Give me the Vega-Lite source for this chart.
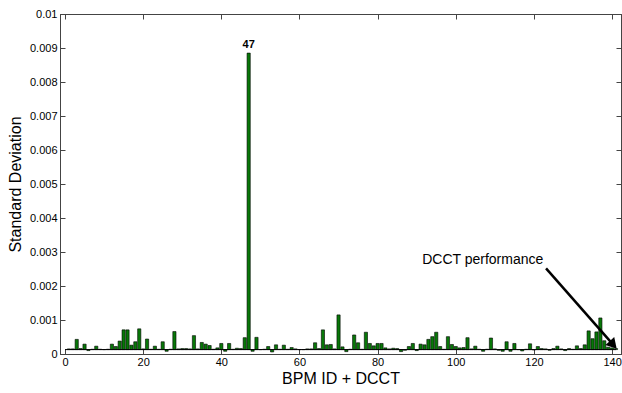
{
  "$schema": "https://vega.github.io/schema/vega-lite/v6.json",
  "width": 561,
  "height": 340,
  "autosize": {"type": "none"},
  "padding": {"left": 60, "top": 14, "right": 1, "bottom": 39},
  "background": "white",
  "config": {
    "font": "Liberation Sans",
    "view": {"stroke": "#444", "strokeWidth": 1},
    "axis": {
      "labelFont": "Liberation Sans",
      "titleFont": "Liberation Sans",
      "labelFontSize": 11,
      "labelColor": "black",
      "titleFontSize": 16,
      "titleFontWeight": "normal",
      "titleColor": "black",
      "domainColor": "#444",
      "tickColor": "#444",
      "grid": false
    }
  },
  "datasets": {
    "bpm": [
      {"id": 1, "sd": 0.00015}, {"id": 2, "sd": 0.00015}, {"id": 3, "sd": 0.00043}, {"id": 4, "sd": 0.00016}, {"id": 5, "sd": 0.00029},
      {"id": 6, "sd": 0.0001}, {"id": 7, "sd": 0.00014}, {"id": 8, "sd": 0.00023}, {"id": 9, "sd": 0.00014}, {"id": 10, "sd": 0.00013},
      {"id": 11, "sd": 0.00014}, {"id": 12, "sd": 0.00029}, {"id": 13, "sd": 0.00022}, {"id": 14, "sd": 0.00038}, {"id": 15, "sd": 0.00071},
      {"id": 16, "sd": 0.00071}, {"id": 17, "sd": 0.00026}, {"id": 18, "sd": 0.00036}, {"id": 19, "sd": 0.00074}, {"id": 20, "sd": 0.00015},
      {"id": 21, "sd": 0.00044}, {"id": 22, "sd": 0.00014}, {"id": 23, "sd": 0.00023}, {"id": 24, "sd": 0.00014}, {"id": 25, "sd": 0.00036},
      {"id": 26, "sd": 0.00008}, {"id": 27, "sd": 0.00014}, {"id": 28, "sd": 0.00066}, {"id": 29, "sd": 0.00015}, {"id": 30, "sd": 0.00016},
      {"id": 31, "sd": 0.00016}, {"id": 32, "sd": 0.00015}, {"id": 33, "sd": 0.00054}, {"id": 34, "sd": 0.00015}, {"id": 35, "sd": 0.00034},
      {"id": 36, "sd": 0.00029}, {"id": 37, "sd": 0.00025}, {"id": 38, "sd": 0.00014}, {"id": 39, "sd": 0.00018}, {"id": 40, "sd": 0.00031},
      {"id": 41, "sd": 0.00008}, {"id": 42, "sd": 0.00031}, {"id": 43, "sd": 0.00014}, {"id": 44, "sd": 0.00017}, {"id": 45, "sd": 0.00016},
      {"id": 46, "sd": 0.00048}, {"id": 47, "sd": 0.00885}, {"id": 48, "sd": 0.00008}, {"id": 49, "sd": 0.00049}, {"id": 50, "sd": 0.00013},
      {"id": 51, "sd": 0.00014}, {"id": 52, "sd": 0.00022}, {"id": 53, "sd": 0.00006}, {"id": 54, "sd": 0.00027}, {"id": 55, "sd": 0.00014},
      {"id": 56, "sd": 0.00026}, {"id": 57, "sd": 0.00014}, {"id": 58, "sd": 0.00019}, {"id": 59, "sd": 0.00015}, {"id": 60, "sd": 0.00013},
      {"id": 61, "sd": 0.00013}, {"id": 62, "sd": 0.00015}, {"id": 63, "sd": 0.00015}, {"id": 64, "sd": 0.00033}, {"id": 65, "sd": 0.00016},
      {"id": 66, "sd": 0.00071}, {"id": 67, "sd": 0.00027}, {"id": 68, "sd": 0.00028}, {"id": 69, "sd": 0.00015}, {"id": 70, "sd": 0.00115},
      {"id": 71, "sd": 0.00021}, {"id": 72, "sd": 0.00007}, {"id": 73, "sd": 0.00014}, {"id": 74, "sd": 0.00056}, {"id": 75, "sd": 0.00033},
      {"id": 76, "sd": 0.00014}, {"id": 77, "sd": 0.00064}, {"id": 78, "sd": 0.00031}, {"id": 79, "sd": 0.00024}, {"id": 80, "sd": 0.00031},
      {"id": 81, "sd": 0.00031}, {"id": 82, "sd": 0.00018}, {"id": 83, "sd": 0.00015}, {"id": 84, "sd": 0.00017}, {"id": 85, "sd": 0.00016},
      {"id": 86, "sd": 0.00007}, {"id": 87, "sd": 0.00011}, {"id": 88, "sd": 0.00022}, {"id": 89, "sd": 0.00031}, {"id": 90, "sd": 0.0001},
      {"id": 91, "sd": 0.00029}, {"id": 92, "sd": 0.00027}, {"id": 93, "sd": 0.00043}, {"id": 94, "sd": 0.00051}, {"id": 95, "sd": 0.00064},
      {"id": 96, "sd": 0.00022}, {"id": 97, "sd": 0.00014}, {"id": 98, "sd": 0.00051}, {"id": 99, "sd": 0.00028}, {"id": 100, "sd": 0.00022},
      {"id": 101, "sd": 0.00018}, {"id": 102, "sd": 0.00019}, {"id": 103, "sd": 0.00048}, {"id": 104, "sd": 0.00015}, {"id": 105, "sd": 0.00023},
      {"id": 106, "sd": 0.00014}, {"id": 107, "sd": 0.00008}, {"id": 108, "sd": 0.00014}, {"id": 109, "sd": 0.00047}, {"id": 110, "sd": 0.00015},
      {"id": 111, "sd": 0.00011}, {"id": 112, "sd": 0.00008}, {"id": 113, "sd": 0.00036}, {"id": 114, "sd": 0.00008}, {"id": 115, "sd": 0.00031},
      {"id": 116, "sd": 0.00013}, {"id": 117, "sd": 0.00009}, {"id": 118, "sd": 0.00014}, {"id": 119, "sd": 0.0003}, {"id": 120, "sd": 0.00012},
      {"id": 121, "sd": 0.00022}, {"id": 122, "sd": 0.00016}, {"id": 123, "sd": 0.00015}, {"id": 124, "sd": 0.00011}, {"id": 125, "sd": 0.00016},
      {"id": 126, "sd": 0.00023}, {"id": 127, "sd": 0.00015}, {"id": 128, "sd": 0.0001}, {"id": 129, "sd": 0.00016}, {"id": 130, "sd": 0.00014},
      {"id": 131, "sd": 0.00024}, {"id": 132, "sd": 0.00016}, {"id": 133, "sd": 0.00027}, {"id": 134, "sd": 0.00068}, {"id": 135, "sd": 0.00045},
      {"id": 136, "sd": 0.00065}, {"id": 137, "sd": 0.00106}, {"id": 138, "sd": 0.00039}, {"id": 139, "sd": 0.0002}, {"id": 140, "sd": 0.00018},
      {"id": 141, "sd": 0.00016}
    ],
    "note": [
      {"label": "DCCT performance", "tx": 91.4, "ty": 0.00264, "x0": 123.1, "y0": 0.00252, "x1": 140.1, "y1": 0.0003, "hx": 140.3, "hy": 0.00027}
    ]
  },
  "layer": [
    {
      "data": {"name": "bpm"},
      "mark": {"type": "bar", "width": 3.2, "fill": "#087808", "stroke": "black", "strokeWidth": 0.6},
      "encoding": {
        "x": {
          "field": "id", "type": "quantitative",
          "scale": {"domain": [0, 141], "nice": false, "zero": false},
          "axis": {"orient": "bottom", "title": "BPM ID + DCCT", "values": [0, 20, 40, 60, 80, 100, 120, 140], "tickSize": -5, "labelPadding": 7, "titlePadding": 3, "labelFlush": false}
        },
        "y": {
          "field": "sd", "type": "quantitative",
          "scale": {"domain": [0, 0.01], "nice": false},
          "axis": {"orient": "left", "title": "Standard Deviation", "values": [0, 0.001, 0.002, 0.003, 0.004, 0.005, 0.006, 0.007, 0.008, 0.009, 0.01], "format": ".3~f", "tickSize": -5, "labelPadding": 8, "titlePadding": 6, "labelFlush": false}
        },
        "y2": {"datum": 0.00013}
      }
    },
    {
      "data": {"name": "bpm"},
      "mark": {"type": "rule", "opacity": 0},
      "encoding": {
        "x": {"field": "id", "type": "quantitative", "axis": {"orient": "top", "labels": false, "title": null, "values": [0, 20, 40, 60, 80, 100, 120, 140], "tickSize": -5}},
        "y": {"field": "sd", "type": "quantitative", "axis": {"orient": "right", "labels": false, "title": null, "values": [0, 0.001, 0.002, 0.003, 0.004, 0.005, 0.006, 0.007, 0.008, 0.009, 0.01], "tickSize": -5}}
      }
    },
    {
      "data": {"name": "note"},
      "mark": {"type": "rule", "color": "black", "strokeWidth": 1},
      "encoding": {
        "x": {"datum": 0, "axis": null},
        "x2": {"datum": 141},
        "y": {"datum": 0.00013, "axis": null}
      }
    },
    {
      "data": {"name": "bpm"},
      "transform": [{"filter": "datum.id == 47"}],
      "mark": {"type": "text", "fontWeight": "bold", "fontSize": 11, "baseline": "bottom", "dy": -3, "color": "black"},
      "encoding": {
        "x": {"field": "id", "type": "quantitative", "axis": null},
        "y": {"field": "sd", "type": "quantitative", "axis": null},
        "text": {"field": "id", "type": "nominal"}
      }
    },
    {
      "data": {"name": "note"},
      "mark": {"type": "text", "fontSize": 14, "align": "left", "baseline": "alphabetic", "color": "black"},
      "encoding": {
        "x": {"field": "tx", "type": "quantitative", "axis": null},
        "y": {"field": "ty", "type": "quantitative", "axis": null},
        "text": {"field": "label"}
      }
    },
    {
      "data": {"name": "note"},
      "mark": {"type": "rule", "color": "black", "strokeWidth": 2.5},
      "encoding": {
        "x": {"field": "x0", "type": "quantitative", "axis": null},
        "y": {"field": "y0", "type": "quantitative", "axis": null},
        "x2": {"field": "x1"},
        "y2": {"field": "y1"}
      }
    },
    {
      "data": {"name": "note"},
      "mark": {"type": "point", "shape": "triangle-up", "filled": true, "color": "black", "opacity": 1, "size": 140, "angle": 138},
      "encoding": {
        "x": {"field": "hx", "type": "quantitative", "axis": null},
        "y": {"field": "hy", "type": "quantitative", "axis": null}
      }
    }
  ],
  "resolve": {"axis": {"x": "independent", "y": "independent"}}
}
